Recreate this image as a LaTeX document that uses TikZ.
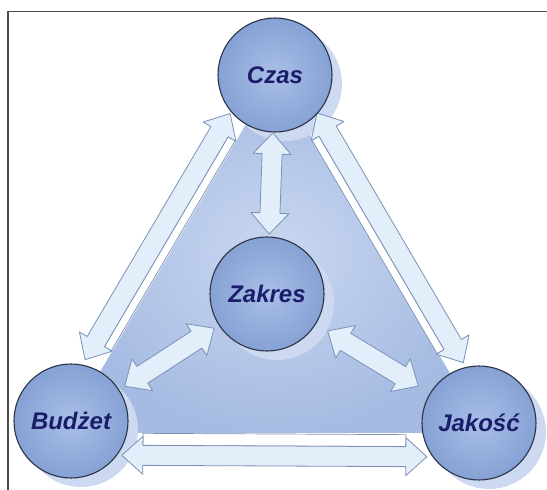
\documentclass[tikz,border=0pt]{standalone}
\usepackage{fontspec}
\setmainfont{Liberation Sans}
\usetikzlibrary{calc}

\definecolor{framec}{HTML}{4D4D4D}
\definecolor{textc}{HTML}{1B1D6A}
\definecolor{ballin}{HTML}{A9BFE7}
\definecolor{ballout}{HTML}{86A1D4}
\definecolor{balledge}{HTML}{2C3347}
\definecolor{shadowc}{HTML}{CDD9F0}
\definecolor{triin}{HTML}{C9D7F0}
\definecolor{triout}{HTML}{A6BBE2}
\definecolor{arrowfill}{HTML}{E2EEFA}
\definecolor{arrowedge}{HTML}{7B91B5}

\pgfdeclarelayer{back}
\pgfsetlayers{back,main}

% arrow dimensions
\def\headlen{21pt}
\def\headhw{19pt}
\def\shafthw{10pt}

% double-headed block arrow between two points
\newcommand\blockarrow[2]{%
  \draw[arrowbody] (#1)
    -- ($(#1)!\headlen!(#2)!\headhw!90:(#2)$)
    -- ($(#1)!\headlen!(#2)!\shafthw!90:(#2)$)
    -- ($(#2)!\headlen!(#1)!\shafthw!-90:(#1)$)
    -- ($(#2)!\headlen!(#1)!\headhw!-90:(#1)$)
    -- (#2)
    -- ($(#2)!\headlen!(#1)!\headhw!90:(#1)$)
    -- ($(#2)!\headlen!(#1)!\shafthw!90:(#1)$)
    -- ($(#1)!\headlen!(#2)!\shafthw!-90:(#2)$)
    -- ($(#1)!\headlen!(#2)!\headhw!-90:(#2)$)
    -- cycle;}

% side face of an arrow: #3/#4 the side angles at both ends, #5 outer offset
\newcommand\arrowstrip[5]{%
  \draw[stripface] ($(#1)!\headlen!(#2)!\shafthw!#3:(#2)$)
    -- ($(#1)!\headlen!(#2)!#5!#3:(#2)$)
    -- ($(#2)!\headlen!(#1)!#5!#4:(#1)$)
    -- ($(#2)!\headlen!(#1)!\shafthw!#4:(#1)$) -- cycle;}

\tikzset{
  ball/.style={circle, minimum size=114pt, inner sep=0pt,
    inner color=ballin, outer color=ballout,
    draw=balledge, line width=1.1pt, text=textc,
    font=\fontsize{24}{28}\selectfont\bfseries\itshape},
  ballshadow/.style={fill=shadowc},
  arrowbody/.style={fill=arrowfill, draw=arrowedge, line width=0.8pt, line join=round},
  stripface/.style={fill=white, draw=arrowedge, line width=0.7pt, line join=round},
  frameline/.style={draw=framec, line width=1.3pt},
}

\begin{document}
\begin{tikzpicture}[x=1pt,y=1pt]
\useasboundingbox (0,0) rectangle (547,490);

% the four elements
\node[ball] (czas)   at (275,415) {Czas};
\node[ball] (zakres) at (267,196) {Zakres};
\node[ball] (budzet) at (71,69)   {Budżet};
\node[ball] (jakosc) at (479,67)  {Jakość};

% arrow end points
\coordinate (cb1) at ($(czas.center)!56pt!(budzet.center)!19pt!-90:(budzet.center)$);
\coordinate (cb2) at ($(budzet.center)!60pt!(czas.center)!19pt!90:(czas.center)$);
\coordinate (cj1) at ($(czas.center)!54pt!(jakosc.center)!17pt!90:(jakosc.center)$);
\coordinate (cj2) at ($(jakosc.center)!60pt!(czas.center)!17pt!-90:(czas.center)$);
\coordinate (bj1) at ($(budzet.center)!51pt!(jakosc.center)!34pt!-90:(jakosc.center)$);
\coordinate (bj2) at ($(jakosc.center)!52pt!(budzet.center)!34pt!90:(budzet.center)$);
\coordinate (cz1) at ($(czas.center)!58pt!(zakres.center)$);
\coordinate (cz2) at ($(zakres.center)!60pt!(czas.center)$);
\coordinate (zb1) at ($(zakres.center)!63pt!(budzet.center)$);
\coordinate (zb2) at ($(budzet.center)!64pt!(zakres.center)$);
\coordinate (zj1) at ($(zakres.center)!71pt!(jakosc.center)$);
\coordinate (zj2) at ($(jakosc.center)!71pt!(zakres.center)$);

\begin{pgfonlayer}{back}
  \fill[white] (0,0) rectangle (547,490);
  \draw[frameline] (8,0) -- (8,478.5) -- (547,478.5);
  % shaded triangle behind everything
  \shade[inner color=triin, outer color=triout]
    (czas.center) -- (64,57) -- (485,57) -- cycle;
  % soft shadows of the balls
  \foreach \n in {czas,zakres,budzet,jakosc}
    \fill[ballshadow] ([shift={(10,-9)}]\n.center) circle (57);
  % outer arrows with their side faces
  \arrowstrip{cb1}{cb2}{90}{-90}{18pt}
  \blockarrow{cb1}{cb2}
  \arrowstrip{cj1}{cj2}{-90}{90}{18pt}
  \blockarrow{cj1}{cj2}
  \arrowstrip{bj1}{bj2}{90}{-90}{22pt}
  \blockarrow{bj1}{bj2}
  % inner arrows
  \blockarrow{cz1}{cz2}
  \blockarrow{zb1}{zb2}
  \blockarrow{zj1}{zj2}
\end{pgfonlayer}
\end{tikzpicture}
\end{document}
